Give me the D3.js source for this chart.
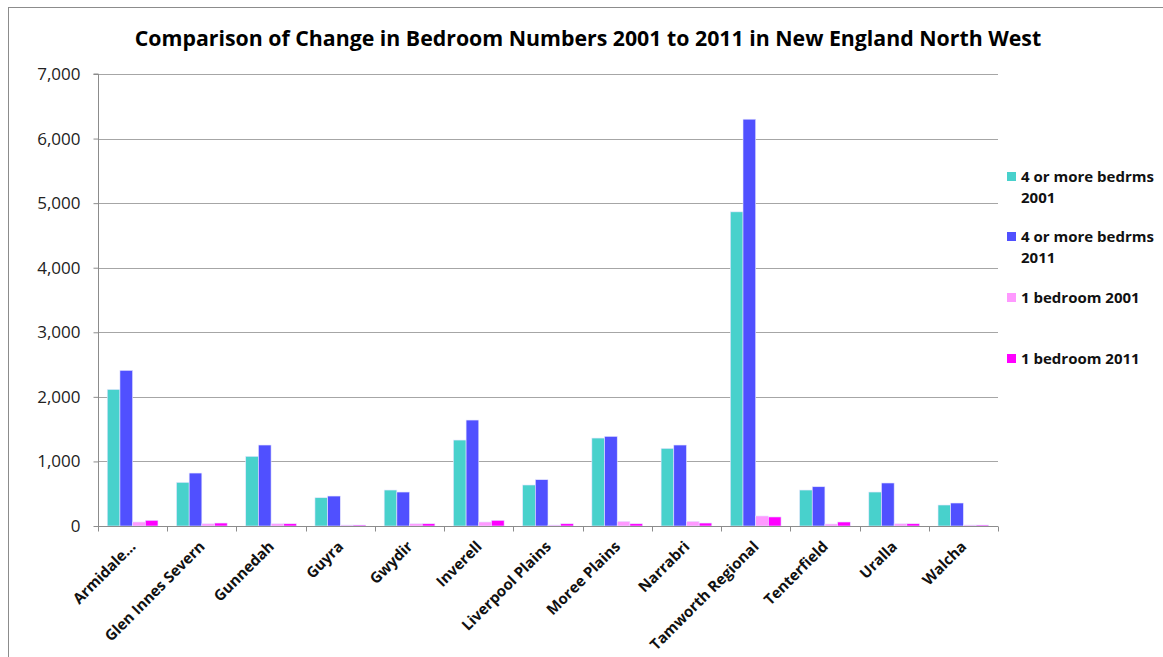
<!DOCTYPE html>
<html><head><meta charset="utf-8">
<script src="https://cdn.jsdelivr.net/npm/d3@7"></script>
<style>
body{margin:0;background:#fff;}
text{font-family:"Open Sans",Lato,sans-serif;}
</style></head>
<body><svg id="chart" width="1163" height="657"></svg>
<script>
const categories = ["Armidale...","Glen Innes Severn","Gunnedah","Guyra","Gwydir","Inverell","Liverpool Plains","Moree Plains","Narrabri","Tamworth Regional","Tenterfield","Uralla","Walcha"];
const seriesNames = ["4 or more bedrms 2001","4 or more bedrms 2011","1 bedroom 2001","1 bedroom 2011"];
const beds4_2001 = [2115,676,1079,438,557,1331,635,1362,1202,4865,557,526,325];
const beds4_2011 = [2410,820,1254,464,526,1641,717,1388,1254,6300,608,666,356];
const beds1_2001 = [62,35,35,15,35,62,15,72,72,155,31,35,15];
const beds1_2011 = [88,46,35,15,35,88,35,35,46,140,62,35,15];
const yTicks = [0,1000,2000,3000,4000,5000,6000,7000];
const colors = ["#48D1CC","#5050FF","#FF99FF","#FF00FF"];
const legendLines = [["4 or more bedrms","2001"],["4 or more bedrms","2011"],["1 bedroom 2001"],["1 bedroom 2011"]];

const series = [beds4_2001,beds4_2011,beds1_2001,beds1_2011];
const svg = d3.select("#chart");

// outer border
svg.append("rect").attr("x",8.5).attr("y",7.5).attr("width",1170).attr("height",670)
  .attr("fill","none").attr("stroke","#8c8c8c").attr("stroke-width",1);

const pLeft=98, pRight=998, pTop=74, pBottom=526;
const x = d3.scaleBand().domain(categories).range([pLeft,pRight]).paddingInner(0).paddingOuter(0);
const y = d3.scaleLinear().domain([0,7000]).range([pBottom,pTop]);
const inner = d3.scaleBand().domain(d3.range(4)).range([0,x.bandwidth()]).paddingInner(0).paddingOuter(0.73);

// gridlines
svg.append("g").selectAll("line").data(yTicks.filter(d=>d>0)).join("line")
  .attr("x1",pLeft).attr("x2",pRight).attr("y1",d=>Math.round(y(d))+0.5).attr("y2",d=>Math.round(y(d))+0.5)
  .attr("stroke","#a6a6a6").attr("stroke-width",1);

// bars
const g = svg.append("g");
series.forEach((s,si)=>{
  g.append("g").selectAll("rect").data(s).join("rect")
    .attr("x",(d,i)=>x(categories[i])+inner(si))
    .attr("width",inner.bandwidth())
    .attr("y",d=>y(d))
    .attr("height",d=>pBottom-y(d))
    .attr("fill",colors[si])
    .attr("stroke","#e6e6ff").attr("stroke-width",0.6);
});

// y axis
const yAxis = d3.axisLeft(y).tickValues(yTicks).tickSize(5).tickPadding(13).tickFormat(d3.format(","));
const ya = svg.append("g").attr("transform",`translate(${pLeft+0.5},0)`).call(yAxis);
ya.select(".domain").attr("stroke","#8c8c8c").attr("d",`M-5,${pTop}H0V${pBottom}`);
ya.selectAll(".tick line").attr("stroke","#8c8c8c");
ya.selectAll(".tick text").attr("font-size",17).attr("fill","#222").style("font-family","'Open Sans',sans-serif");

// x axis
const xa = svg.append("g").attr("transform",`translate(0,${pBottom+0.5})`);
xa.append("line").attr("x1",pLeft).attr("x2",pRight).attr("stroke","#8c8c8c");
const bounds = categories.map(c=>x(c)).concat([pRight]);
xa.selectAll("line.t").data(bounds).join("line").attr("class","t")
  .attr("x1",d=>Math.round(d)+0.5).attr("x2",d=>Math.round(d)+0.5).attr("y1",0).attr("y2",5).attr("stroke","#8c8c8c");
xa.selectAll("text").data(categories).join("text")
  .attr("transform",d=>`translate(${x(d)+x.bandwidth()/2+4},21) rotate(-45)`)
  .attr("text-anchor","end").attr("font-size",15).attr("font-weight","bold").attr("fill","#111")
  .text(d=>d);

// title
svg.append("text").attr("x",588).attr("y",46).attr("text-anchor","middle")
  .attr("font-size",21.3).attr("font-weight","bold").attr("fill","#000")
  .text("Comparison of Change in Bedroom Numbers 2001 to 2011 in New England North West");

// legend
const legY = [172,232,293,354];
const lg = svg.append("g");
legendLines.forEach((lines,i)=>{
  lg.append("rect").attr("x",1007).attr("y",legY[i]).attr("width",9).attr("height",9).attr("fill",colors[i]);
  lines.forEach((t,j)=>{
    lg.append("text").attr("x",1021).attr("y",legY[i]+10+j*21).attr("font-size",15).attr("font-weight","bold")
      .attr("fill","#111").text(t);
  });
});
</script></body></html>
